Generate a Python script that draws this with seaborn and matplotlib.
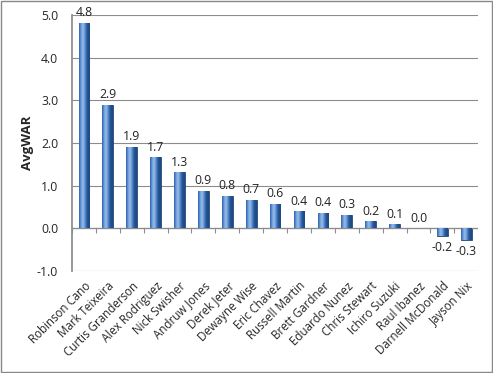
import numpy as np
import pandas as pd
import matplotlib
matplotlib.use("Agg")
import matplotlib.pyplot as plt
import seaborn as sns

# Data
players = ["Robinson Cano", "Mark Teixeira", "Curtis Granderson", "Alex Rodriguez",
           "Nick Swisher", "Andruw Jones", "Derek Jeter", "Dewayne Wise", "Eric Chavez",
           "Russell Martin", "Brett Gardner", "Eduardo Nunez", "Chris Stewart",
           "Ichiro Suzuki", "Raul Ibanez", "Darnell McDonald", "Jayson Nix"]
avg_war = [4.82, 2.90, 1.91, 1.67, 1.32, 0.88, 0.77, 0.67, 0.58, 0.41, 0.37,
           0.32, 0.17, 0.10, 0.0, -0.17, -0.27]
yticks = [-1.0, 0.0, 1.0, 2.0, 3.0, 4.0, 5.0]

df = pd.DataFrame({"Player": players, "AvgWAR": avg_war})

sns.set_theme(style="white")
plt.rcParams["font.family"] = ["Open Sans", "DejaVu Sans"]

fig = plt.figure(figsize=(4.93, 3.73), dpi=100)
ax = fig.add_axes([0.146, 0.273, 0.824, 0.687])

sns.barplot(data=df, x="Player", y="AvgWAR", color="#3a6db3", width=0.45,
            saturation=1, ax=ax, edgecolor="#24487a", linewidth=0.6)

# horizontal gradient on each bar for the cylinder look
grad = np.linspace(0, 1, 64)
shade = np.exp(-((grad - 0.35) ** 2) / 0.08)
cmap = matplotlib.colors.LinearSegmentedColormap.from_list(
    "bar", ["#1f4a85", "#4f86cc", "#8fb5e6"])
for p in ax.patches:
    x0, y0 = p.get_x(), p.get_y()
    w, h = p.get_width(), p.get_height()
    if h == 0:
        continue
    im = ax.imshow(shade[np.newaxis, :], cmap=cmap, aspect="auto",
                   extent=[x0, x0 + w, y0, y0 + h], zorder=p.get_zorder() + 0.1)
    im.set_clip_path(p)

for i, v in enumerate(avg_war):
    off = 0.08 if v >= 0 else -0.12
    ax.text(i, v + off, f"{v:.1f}", ha="center",
            va="bottom" if v >= 0 else "top", fontsize=8.8, color="#222222")

ax.set_ylim(-1.0, 5.0)
ax.set_xlim(-0.5, len(players) - 0.5)
ax.set_yticks(yticks)
ax.set_yticklabels([f"{t:.1f}" for t in yticks], fontsize=8.8)
ax.yaxis.grid(True, color="#8c8c8c", linewidth=0.8)
ax.set_axisbelow(True)
ax.axhline(0, color="#8c8c8c", linewidth=0.9, zorder=1)
ax.vlines(np.arange(-0.5, len(players)), 0, -0.1, color="#8c8c8c", linewidth=0.8)

ax.set_xticks(range(len(players)))
ax.set_xticklabels(players, rotation=45, ha="right", rotation_mode="anchor",
                   fontsize=8.3)
ax.tick_params(axis="x", length=0, pad=6)
ax.tick_params(axis="y", length=0, pad=10)
ax.set_xlabel("")
ax.set_ylabel("AvgWAR", fontsize=9.5, fontweight="bold", labelpad=2)

for s in ["top", "right", "bottom"]:
    ax.spines[s].set_visible(False)
ax.spines["left"].set_color("#8c8c8c")

fig.patches.append(plt.Rectangle((0.003, 0.003), 0.994, 0.994, transform=fig.transFigure,
                                 fill=False, edgecolor="#888888", linewidth=1))

fig.savefig("out.png", dpi=100)
